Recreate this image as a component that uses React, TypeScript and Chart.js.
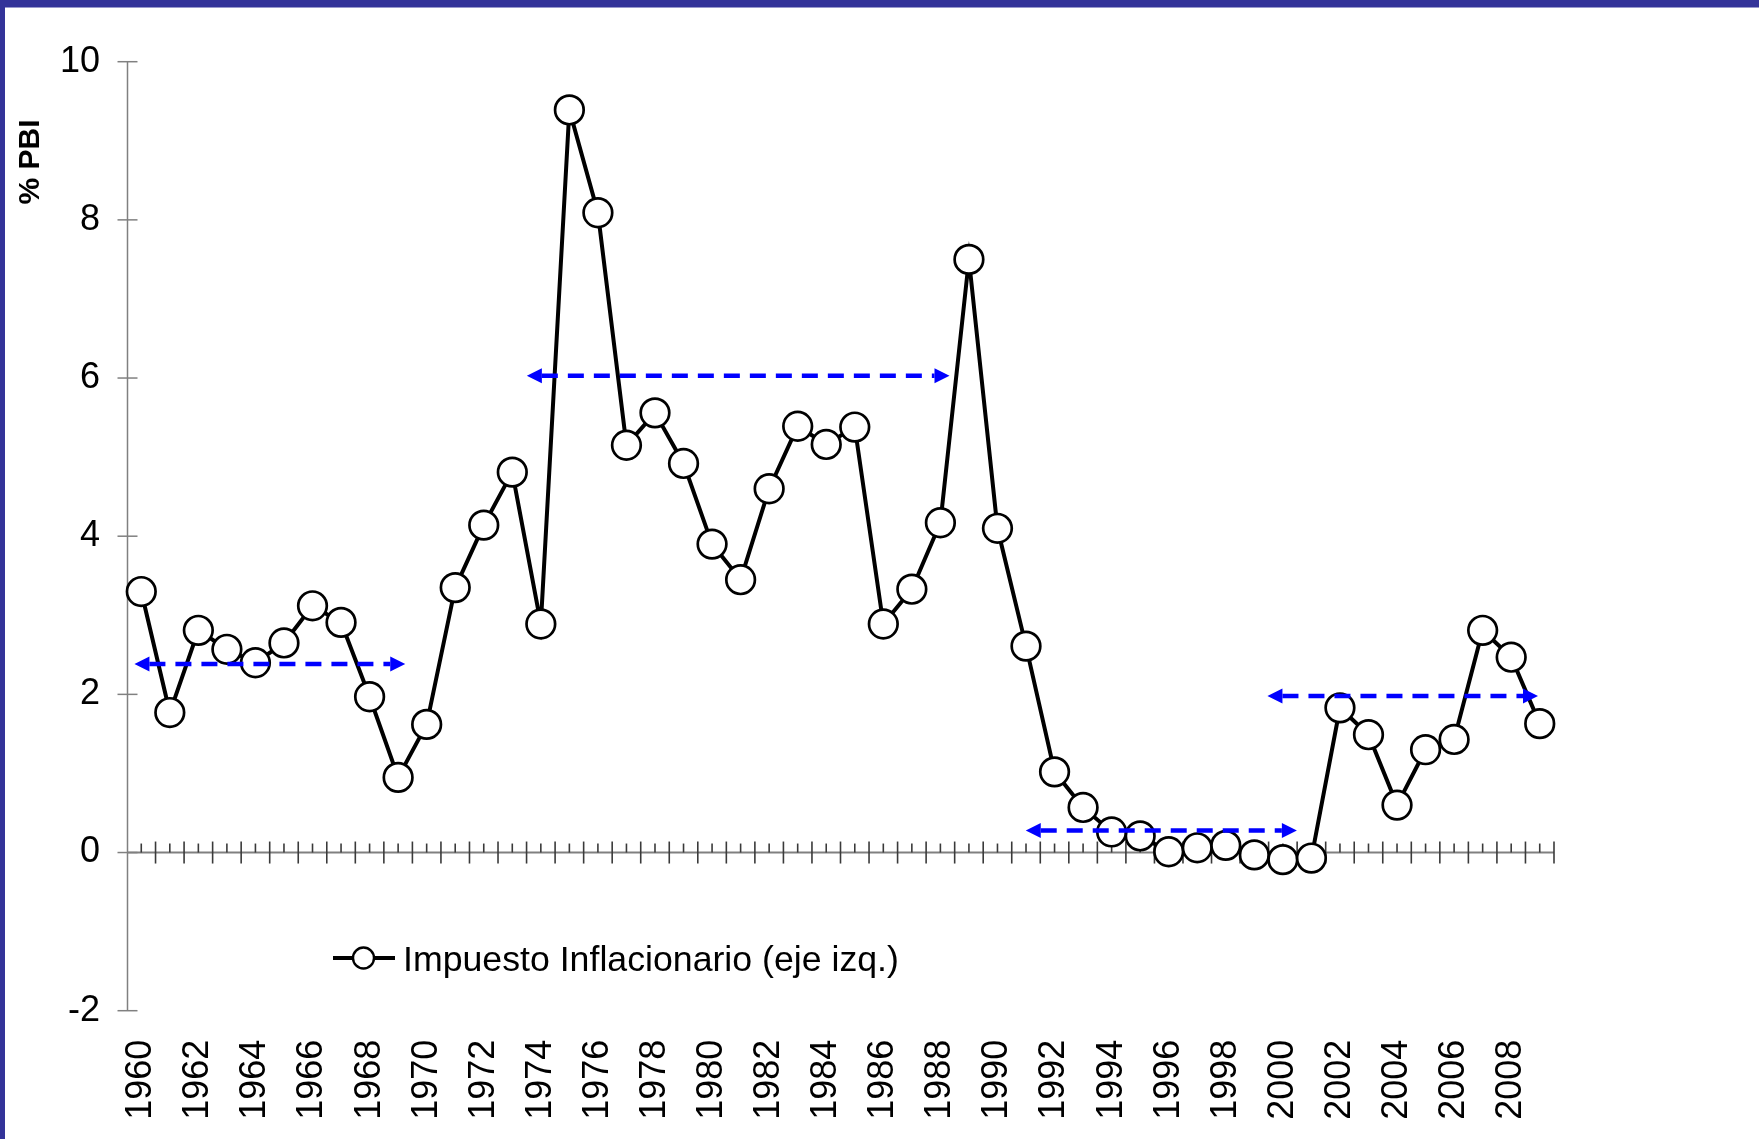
import React, { useEffect, useRef } from 'react';
import { Chart, registerables } from 'chart.js';

Chart.register(...registerables);

// ---- data ----
const years = [
  '1960', '1961', '1962', '1963', '1964', '1965', '1966', '1967', '1968', '1969',
  '1970', '1971', '1972', '1973', '1974', '1975', '1976', '1977', '1978', '1979',
  '1980', '1981', '1982', '1983', '1984', '1985', '1986', '1987', '1988', '1989',
  '1990', '1991', '1992', '1993', '1994', '1995', '1996', '1997', '1998', '1999',
  '2000', '2001', '2002', '2003', '2004', '2005', '2006', '2007', '2008', '2009',
];

const impuestoInflacionario = [
  3.30, 1.77, 2.81, 2.57, 2.40, 2.65, 3.12, 2.91, 1.97, 0.95,
  1.62, 3.35, 4.14, 4.81, 2.89, 9.39, 8.09, 5.15, 5.56, 4.92,
  3.90, 3.45, 4.60, 5.39, 5.16, 5.38, 2.89, 3.33, 4.17, 7.50,
  4.10, 2.61, 1.02, 0.57, 0.26, 0.21, 0.01, 0.06, 0.09, -0.03,
  -0.09, -0.07, 1.83, 1.49, 0.60, 1.30, 1.43, 2.81, 2.47, 1.63,
];

const seriesLabel = 'Impuesto Inflacionario (eje izq.)';
const yAxisTitle = '% PBI';
const yMin = -2;
const yMax = 10;
const yStep = 2;

// dashed double arrows (level in % PBI, span in years)
const arrowLevel = [2.385, 6.03, 0.28, 1.98];
const arrowFromYear = [1959.76, 1973.51, 1990.99, 1999.46];
const arrowToYear = [1969.25, 1988.32, 2000.49, 2008.94];

const FONT = "'Liberation Sans', Arial, Helvetica, sans-serif";
const W = 1759;
const H = 1139;

function seg(ctx: CanvasRenderingContext2D, x1: number, y1: number, x2: number, y2: number) {
  ctx.beginPath();
  ctx.moveTo(x1, y1);
  ctx.lineTo(x2, y2);
  ctx.stroke();
}

const decorPlugin = {
  id: 'decor',
  beforeDraw(chart: any) {
    const { ctx, width, height } = chart;
    ctx.save();
    ctx.fillStyle = '#ffffff';
    ctx.fillRect(0, 0, width, height);
    ctx.fillStyle = '#333399';
    ctx.fillRect(0, 0, width, 7.5);
    ctx.fillRect(0, 0, 5, height);
    ctx.restore();
  },
  beforeDatasetsDraw(chart: any) {
    const { ctx, chartArea } = chart;
    const xs = chart.scales.x;
    const ys = chart.scales.y;
    const n = years.length;
    ctx.save();
    // y axis line
    const ax = Math.round(chartArea.left) + 0.5;
    ctx.strokeStyle = '#808080';
    ctx.lineWidth = 1.5;
    seg(ctx, ax, ys.getPixelForValue(yMax), ax, ys.getPixelForValue(yMin));
    for (let v = yMin; v <= yMax; v += yStep) {
      const py = ys.getPixelForValue(v);
      seg(ctx, ax - 10, py, ax + 10, py);
    }
    // x axis line at zero
    const y0 = ys.getPixelForValue(0);
    ctx.lineWidth = 2;
    ctx.strokeStyle = '#808080';
    seg(ctx, chartArea.left, y0, chartArea.right, y0);
    // major ticks at category boundaries (crossing)
    ctx.lineWidth = 1.6;
    ctx.strokeStyle = '#3a3a3a';
    for (let i = 1; i <= n; i++) {
      const px = xs.getPixelForValue(i - 0.5);
      seg(ctx, px, y0 - 11, px, y0 + 11);
    }
    // minor ticks at category centres (inside)
    for (let i = 0; i < n; i++) {
      const px = xs.getPixelForValue(i);
      seg(ctx, px, y0 - 9, px, y0);
    }
    ctx.restore();
  },
  afterDatasetsDraw(chart: any) {
    const { ctx } = chart;
    const xs = chart.scales.x;
    const ys = chart.scales.y;
    const base = parseInt(years[0], 10);
    ctx.save();
    ctx.strokeStyle = '#0000ff';
    ctx.fillStyle = '#0000ff';
    ctx.lineWidth = 4.5;
    const head = 15;
    const half = 7.5;
    for (let k = 0; k < arrowLevel.length; k++) {
      const py = ys.getPixelForValue(arrowLevel[k]);
      const x1 = xs.getPixelForValue(arrowFromYear[k] - base);
      const x2 = xs.getPixelForValue(arrowToYear[k] - base);
      ctx.setLineDash([16, 10]);
      seg(ctx, x1 + head, py, x2 - head, py);
      ctx.setLineDash([]);
      ctx.beginPath();
      ctx.moveTo(x1, py);
      ctx.lineTo(x1 + head, py - half);
      ctx.lineTo(x1 + head, py + half);
      ctx.closePath();
      ctx.fill();
      ctx.beginPath();
      ctx.moveTo(x2, py);
      ctx.lineTo(x2 - head, py - half);
      ctx.lineTo(x2 - head, py + half);
      ctx.closePath();
      ctx.fill();
    }
    ctx.restore();
  },
  afterDraw(chart: any) {
    const { ctx } = chart;
    ctx.save();
    // legend (inside plot)
    const ly = 958;
    ctx.strokeStyle = '#000000';
    ctx.lineWidth = 4.2;
    seg(ctx, 333, ly, 395, ly);
    ctx.beginPath();
    ctx.arc(363.5, ly, 10.5, 0, Math.PI * 2);
    ctx.fillStyle = '#ffffff';
    ctx.fill();
    ctx.lineWidth = 2.4;
    ctx.stroke();
    ctx.fillStyle = '#000000';
    ctx.font = `35.7px ${FONT}`;
    ctx.textAlign = 'left';
    ctx.textBaseline = 'alphabetic';
    ctx.fillText(seriesLabel, 403, 971);
    // y axis title
    ctx.translate(31, 162);
    ctx.rotate(-Math.PI / 2);
    ctx.font = `bold 30px ${FONT}`;
    ctx.textAlign = 'center';
    ctx.textBaseline = 'middle';
    ctx.fillText(yAxisTitle, 0, 0);
    ctx.restore();
  },
};

export default function App() {
  const ref = useRef<HTMLCanvasElement | null>(null);

  useEffect(() => {
    document.body.style.margin = '0';
    document.body.style.overflow = 'hidden';
    const canvas = ref.current;
    if (!canvas) return;
    const chart = new Chart(canvas, {
      type: 'line',
      data: {
        labels: years,
        datasets: [
          {
            label: seriesLabel,
            data: impuestoInflacionario,
            borderColor: '#000000',
            borderWidth: 4,
            pointRadius: 14.3,
            pointHoverRadius: 14.3,
            pointBorderWidth: 2.7,
            pointBackgroundColor: '#ffffff',
            pointBorderColor: '#000000',
            tension: 0,
            clip: false as any,
          },
        ],
      },
      options: {
        animation: false,
        responsive: false,
        devicePixelRatio: 1,
        events: [],
        layout: { padding: { left: 0, top: 61.7, right: W - 1554, bottom: 0 } },
        plugins: {
          legend: { display: false },
          tooltip: { enabled: false },
          title: { display: false },
        },
        scales: {
          x: {
            type: 'category',
            offset: true,
            grid: { display: false, drawTicks: false },
            border: { display: false },
            ticks: {
              autoSkip: false,
              minRotation: 90,
              maxRotation: 90,
              padding: 29,
              color: '#000000',
              font: { family: FONT, size: 36 },
              callback: function (this: any, value: any, index: number) {
                return index % 2 === 0 ? this.getLabelForValue(value) : '';
              },
            },
            afterFit: (scale: any) => {
              scale.height = H - 1010.7;
            },
          },
          y: {
            type: 'linear',
            min: yMin,
            max: yMax,
            grid: { display: false, drawTicks: false },
            border: { display: false },
            ticks: {
              stepSize: yStep,
              padding: 27,
              color: '#000000',
              font: { family: FONT, size: 36 },
            },
            afterFit: (scale: any) => {
              scale.width = 127;
            },
          },
        },
      },
      plugins: [decorPlugin],
    });
    return () => chart.destroy();
  }, []);

  return (
    <div style={{ width: W, height: H, position: 'relative', overflow: 'hidden' }}>
      <canvas ref={ref} width={W} height={H} style={{ display: 'block', width: W, height: H }} />
    </div>
  );
}
